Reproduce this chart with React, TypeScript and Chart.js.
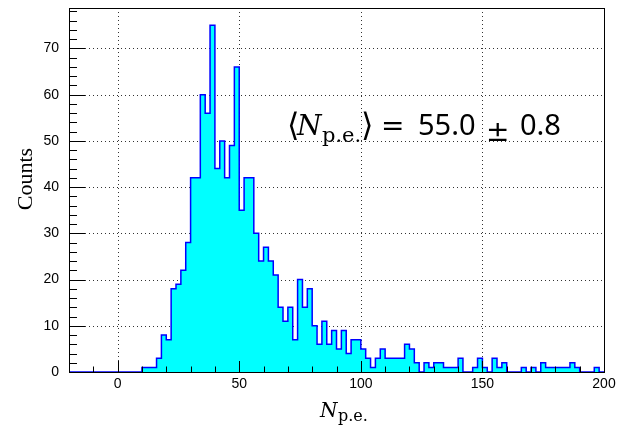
import React, { useEffect, useRef } from 'react';
import { Chart, registerables } from 'chart.js';

Chart.register(...registerables);

// ---- data ----
const BIN_START = -20;
const BIN_WIDTH = 2;
const X_MIN = -20;
const X_MAX = 200;
const Y_MIN = 0;
const Y_MAX = 78.75;
const X_TICK_STEP = 50;
const Y_TICK_STEP = 10;
const X_MINOR_STEP = 10;
const Y_MINOR_STEP = 2;

// counts per 2-wide bin, from -20 to 200
const counts = [
  // -20 .. 10
  0, 0, 0, 0, 0, 0, 0, 0, 0, 0, 0, 0, 0, 0, 0,
  // 10 .. 20
  1, 1, 1, 3, 8,
  // 20 .. 30
  7, 18, 19, 22, 28,
  // 30 .. 40
  42, 42, 60, 56, 75,
  // 40 .. 50
  44, 50, 42, 49, 66,
  // 50 .. 60
  35, 42, 42, 30, 24,
  // 60 .. 70
  27, 24, 21, 14, 11,
  // 70 .. 80
  14, 7, 20, 14, 18,
  // 80 .. 90
  10, 6, 11, 6, 9,
  // 90 .. 100
  5, 9, 4, 7, 7,
  // 100 .. 110
  5, 3, 1, 3, 5,
  // 110 .. 120
  3, 3, 3, 3, 6,
  // 120 .. 130
  5, 2, 0, 2, 1,
  // 130 .. 140
  2, 2, 1, 1, 1,
  // 140 .. 150
  3, 0, 0, 1, 3,
  // 150 .. 160
  1, 0, 3, 1, 2,
  // 160 .. 170
  0, 0, 0, 1, 0,
  // 170 .. 180
  1, 0, 2, 1, 1,
  // 180 .. 190
  1, 1, 1, 2, 1,
  // 190 .. 200
  0, 0, 0, 1, 0,
];

const Y_TITLE = 'Counts';
const X_TITLE_MAIN = 'N';
const X_TITLE_SUB = 'p.e.';
const MEAN_TEXT = '55.0';
const ERR_TEXT = '0.8';

const points = counts.map((c, i) => ({ x: BIN_START + i * BIN_WIDTH, y: c }));
points.push({ x: BIN_START + counts.length * BIN_WIDTH, y: counts[counts.length - 1] });

const rootStyle = {
  id: 'rootStyle',
  beforeDatasetsDraw(chart: any) {
    const { ctx, chartArea: a, scales } = chart;
    const xs = scales.x;
    const ys = scales.y;
    ctx.save();
    ctx.strokeStyle = 'rgba(0,0,0,0.8)';
    ctx.lineWidth = 1;
    ctx.setLineDash([1, 3]);
    for (let v = 0; v < X_MAX; v += X_TICK_STEP) {
      const px = Math.round(xs.getPixelForValue(v)) + 0.5;
      ctx.beginPath();
      ctx.moveTo(px, a.top);
      ctx.lineTo(px, a.bottom);
      ctx.stroke();
    }
    for (let v = Y_TICK_STEP; v < Y_MAX; v += Y_TICK_STEP) {
      const py = Math.round(ys.getPixelForValue(v)) + 0.5;
      ctx.beginPath();
      ctx.moveTo(a.left, py);
      ctx.lineTo(a.right, py);
      ctx.stroke();
    }
    ctx.restore();
  },
  afterDatasetsDraw(chart: any) {
    const { ctx, chartArea: a, scales } = chart;
    const xs = scales.x;
    const ys = scales.y;
    ctx.save();
    ctx.setLineDash([]);
    ctx.strokeStyle = '#000';
    ctx.lineWidth = 1;
    // x ticks
    for (let v = X_MIN; v <= X_MAX + 1e-9; v += X_MINOR_STEP) {
      const px = Math.round(xs.getPixelForValue(v)) + 0.5;
      const major = Math.abs(v % X_TICK_STEP) < 1e-9;
      const len = major ? 11 : 5.5;
      ctx.beginPath();
      ctx.moveTo(px, a.bottom);
      ctx.lineTo(px, a.bottom - len);
      ctx.stroke();
    }
    // y ticks
    for (let v = Y_MIN; v <= Y_MAX; v += Y_MINOR_STEP) {
      const py = Math.round(ys.getPixelForValue(v)) + 0.5;
      const major = Math.abs(v % Y_TICK_STEP) < 1e-9;
      const len = major ? 16 : 8;
      ctx.beginPath();
      ctx.moveTo(a.left, py);
      ctx.lineTo(a.left + len, py);
      ctx.stroke();
    }
    // frame
    ctx.strokeRect(Math.round(a.left) + 0.5, Math.round(a.top) + 0.5,
      Math.round(a.right - a.left), Math.round(a.bottom - a.top));
    ctx.restore();
  },
  afterDraw(chart: any) {
    const { ctx } = chart;
    ctx.save();
    ctx.fillStyle = '#000';
    ctx.textBaseline = 'alphabetic';
    ctx.textAlign = 'left';
    // annotation
    ctx.font = '32px "DejaVu Sans"';
    ctx.fillText('\u27E8', 287, 136);
    ctx.font = 'italic 28px "DejaVu Serif"';
    ctx.fillText(X_TITLE_MAIN, 297, 135);
    ctx.font = '21px "DejaVu Serif"';
    ctx.fillText(X_TITLE_SUB, 322, 142);
    ctx.font = '32px "DejaVu Sans"';
    ctx.fillText('\u27E9', 361, 136);
    ctx.font = '28px "DejaVu Sans"';
    ctx.fillText('=', 381, 135);
    ctx.font = '29px "Noto Sans"';
    ctx.fillText(MEAN_TEXT, 418, 135);
    ctx.font = '28px "DejaVu Sans"';
    ctx.fillText('\u00B1', 486, 141);
    ctx.font = '29px "Noto Sans"';
    ctx.fillText(ERR_TEXT, 520, 135);
    // x title
    ctx.font = 'italic 20px "DejaVu Serif"';
    ctx.fillText(X_TITLE_MAIN, 320, 417);
    ctx.font = '16px "DejaVu Serif"';
    ctx.fillText(X_TITLE_SUB, 338, 421);
    // y title
    ctx.translate(32, 179);
    ctx.rotate(-Math.PI / 2);
    ctx.textAlign = 'center';
    ctx.font = '22px "Liberation Serif"';
    ctx.fillText(Y_TITLE, 0, 0);
    ctx.restore();
  },
};

export default function App() {
  const ref = useRef<HTMLCanvasElement>(null);
  useEffect(() => {
    const canvas = ref.current!;
    const chart = new Chart(canvas, {
      type: 'line',
      data: {
        datasets: [
          {
            data: points,
            stepped: true,
            fill: 'origin',
            backgroundColor: '#00FFFF',
            borderColor: '#0000FF',
            borderWidth: 1.5,
            pointRadius: 0,
            tension: 0,
          },
        ],
      },
      options: {
        responsive: false,
        animation: false,
        devicePixelRatio: 1,
        events: [],
        layout: { padding: { left: 0, top: 8, right: 14, bottom: 0 } },
        plugins: { legend: { display: false }, tooltip: { enabled: false } },
        scales: {
          x: {
            type: 'linear',
            min: X_MIN,
            max: X_MAX,
            grid: { display: false, drawTicks: false },
            border: { display: false },
            ticks: {
              stepSize: X_TICK_STEP,
              includeBounds: false,
              autoSkip: false,
              maxRotation: 0,
              padding: 4,
              color: '#000',
              font: { family: 'Liberation Sans', size: 14 },
            },
            afterFit(scale: any) {
              scale.height = 56;
              scale.paddingLeft = 0;
              scale.paddingRight = 0;
            },
          },
          y: {
            type: 'linear',
            min: Y_MIN,
            max: Y_MAX,
            grid: { display: false, drawTicks: false },
            border: { display: false },
            ticks: {
              stepSize: Y_TICK_STEP,
              includeBounds: false,
              padding: 10,
              color: '#000',
              font: { family: 'Liberation Sans', size: 14 },
            },
            afterFit(scale: any) {
              scale.width = 69;
              scale.paddingTop = 0;
              scale.paddingBottom = 0;
            },
          },
        },
      },
      plugins: [rootStyle],
    } as any);
    return () => chart.destroy();
  }, []);
  return (
    <div style={{ position: 'fixed', left: 0, top: 0, width: 618, height: 428, background: '#fff' }}>
      <canvas ref={ref} width={618} height={428} style={{ display: 'block' }} />
    </div>
  );
}
